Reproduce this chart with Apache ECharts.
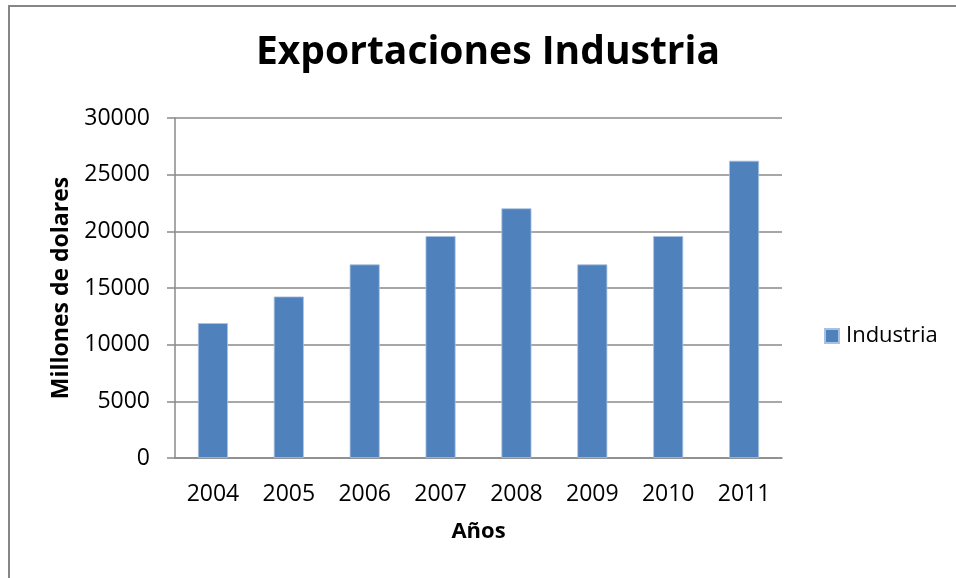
<!DOCTYPE html>
<html>
<head>
<meta charset="utf-8">
<script src="https://cdn.jsdelivr.net/npm/echarts@6/dist/echarts.min.js"></script>
<style>
  html, body { margin: 0; padding: 0; background: #ffffff; }
  #chart { width: 956px; height: 578px; }
</style>
</head>
<body>
<div id="chart"></div>
<script>
// Exportaciones de la industria por año (millones de dólares)
const years = ['2004', '2005', '2006', '2007', '2008', '2009', '2010', '2011'];
const industria = [11900, 14250, 17080, 19580, 22030, 17080, 19580, 26230];
const yTicks = { min: 0, max: 30000, interval: 5000 };

const FONT = '"Open Sans", Lato, sans-serif';
const GRID_GRAY = '#8a8a8a';

const chart = echarts.init(document.getElementById('chart'), null, { renderer: 'canvas' });

chart.setOption({
  backgroundColor: '#ffffff',
  animation: false,
  title: {
    text: 'Exportaciones Industria',
    left: 488,
    top: 33,
    padding: 0,
    textAlign: 'center',
    textStyle: { fontFamily: FONT, fontWeight: 'bold', fontSize: 39, color: '#000000' }
  },
  legend: {
    data: ['Industria'],
    icon: 'rect',
    left: 824,
    top: 325,
    padding: 0,
    itemWidth: 14,
    itemHeight: 14,
    itemGap: 8,
    textStyle: { fontFamily: FONT, fontSize: 22, color: '#000000', padding: [0, 0, 0, 2] }
  },
  grid: { left: 175, top: 118, width: 607, height: 340 },
  xAxis: {
    type: 'category',
    data: years,
    name: 'Años',
    nameLocation: 'middle',
    nameGap: 63,
    nameTextStyle: { fontFamily: FONT, fontWeight: 'bold', fontSize: 22, color: '#000000' },
    axisLine: { lineStyle: { color: GRID_GRAY, width: 1.5 } },
    axisTick: { show: false },
    axisLabel: { fontFamily: FONT, fontSize: 23, color: '#000000', margin: 25 }
  },
  yAxis: {
    type: 'value',
    min: yTicks.min,
    max: yTicks.max,
    interval: yTicks.interval,
    name: 'Millones de dolares',
    nameLocation: 'middle',
    nameGap: 101,
    nameTextStyle: { fontFamily: FONT, fontWeight: 'bold', fontSize: 23, color: '#000000' },
    axisLine: { show: true, lineStyle: { color: GRID_GRAY, width: 1.5 } },
    axisTick: { show: true, length: 8, lineStyle: { color: GRID_GRAY, width: 1.5 } },
    axisLabel: {
      fontFamily: FONT, fontSize: 23, color: '#000000', margin: 25,
      formatter: (v) => String(v)
    },
    splitLine: { show: true, lineStyle: { color: GRID_GRAY, width: 1.5 } }
  },
  series: [{
    name: 'Industria',
    type: 'bar',
    data: industria,
    barWidth: 30,
    itemStyle: { color: '#4F81BD', borderColor: '#a9c1e0', borderWidth: 0.8 }
  }],
  graphic: [{
    type: 'polyline',
    shape: { points: [[9, 600], [9, 6], [960, 6]] },
    style: { fill: null, stroke: '#868686', lineWidth: 2 },
    silent: true
  }]
});
</script>
</body>
</html>
